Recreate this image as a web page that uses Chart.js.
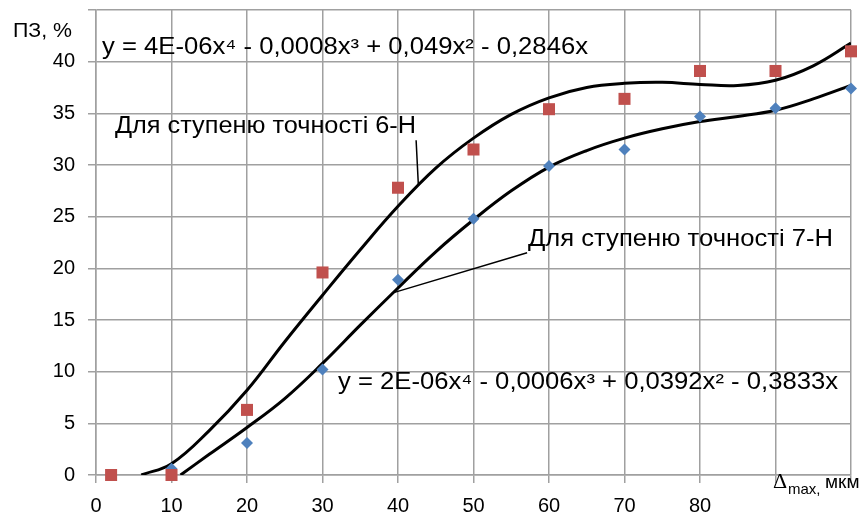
<!DOCTYPE html>
<html>
<head>
<meta charset="utf-8">
<script src="https://cdn.jsdelivr.net/npm/chart.js@4.4.1/dist/chart.umd.min.js"></script>
<style>
  html, body { margin: 0; padding: 0; background: #fff; }
  #wrap { width: 864px; height: 517px; }
</style>
</head>
<body>
<div id="wrap"><canvas id="chart" width="864" height="517"></canvas></div>
<script>
// виміряні точки
const x6H = [2, 10, 20, 30, 40, 50, 60, 70, 80, 90, 100];
const pz6H = [0, 0, 6.3, 19.6, 27.8, 31.5, 35.4, 36.4, 39.1, 39.1, 41.0];
const x7H = [10, 20, 30, 40, 50, 60, 70, 80, 90, 100];
const pz7H = [0.6, 3.1, 10.2, 18.9, 24.8, 29.9, 31.5, 34.7, 35.5, 37.4];

// лінії тренду
const xTrend6 = [6, 10, 15, 20, 25, 30, 35, 40, 45, 50, 55, 60, 65, 70, 75, 80, 85, 90, 95, 100];
const trend6H = [0, 1.1, 4.3, 8.2, 12.9, 17.4, 21.8, 26.0, 29.7, 32.6, 34.9, 36.5, 37.5, 37.9, 38.0, 37.8, 37.7, 38.2, 39.6, 41.8];
const xTrend7 = [11.2, 15, 20, 25, 30, 35, 40, 45, 50, 55, 60, 65, 70, 75, 80, 85, 90, 95, 100];
const trend7H = [0, 2.0, 4.6, 7.4, 10.8, 14.5, 18.1, 21.6, 24.7, 27.5, 29.8, 31.4, 32.6, 33.5, 34.2, 34.7, 35.3, 36.4, 37.7];

// підписи
const eq6H = "y = 4E-06x⁴ - 0,0008x³ + 0,049x² - 0,2846x";
const eq7H = "y = 2E-06x⁴ - 0,0006x³ + 0,0392x² - 0,3833x";
const label6H = "Для ступеню точності 6-Н";
const label7H = "Для ступеню точності 7-Н";
const yTitle = "ПЗ, %";
const xTitle = ["Δ", "max,", "мкм"];
const lastXTick = 80;
const lastYTick = 40;

const toXY = (xs, ys) => xs.map((x, i) => ({ x: x, y: ys[i] }));

const FONT = "'Liberation Sans', Arial, sans-serif";
const GRID = "#a0a0a0";

// текст, розтягнутий до заданої ширини
function fitText(ctx, text, x, y, width) {
  const w = ctx.measureText(text).width;
  ctx.save();
  ctx.translate(x, y);
  ctx.scale(width / w, 1);
  ctx.fillText(text, 0, 0);
  ctx.restore();
}

// текст і виноски поверх графіка
const notesPlugin = {
  id: "notes",
  afterDatasetsDraw(chart) {
    const ctx = chart.ctx;
    const xs = chart.scales.x;
    const ys = chart.scales.y;
    ctx.save();
    ctx.fillStyle = "#000";
    ctx.textBaseline = "alphabetic";
    ctx.textAlign = "left";

    ctx.font = "21px " + FONT;
    fitText(ctx, yTitle, 13, 37, 59);

    ctx.font = "23px " + FONT;
    fitText(ctx, eq6H, 102, 54, 486);
    fitText(ctx, label6H, 115, 133, 301);
    fitText(ctx, label7H, 528, 246, 305);
    fitText(ctx, eq7H, 338, 389, 500);

    // виноски
    ctx.strokeStyle = "#000";
    ctx.lineWidth = 1.5;
    ctx.beginPath();
    ctx.moveTo(xs.getPixelForValue(42.4), ys.getPixelForValue(32.4));
    ctx.lineTo(xs.getPixelForValue(42.7), ys.getPixelForValue(28.0));
    ctx.moveTo(xs.getPixelForValue(57.1), ys.getPixelForValue(21.5));
    ctx.lineTo(xs.getPixelForValue(39.2), ys.getPixelForValue(17.6));
    ctx.stroke();

    // підпис осі X
    ctx.font = "22px 'Liberation Serif', serif";
    ctx.fillText(xTitle[0], 773, 488);
    ctx.font = "15px " + FONT;
    ctx.fillText(xTitle[1], 788, 494);
    ctx.font = "19px " + FONT;
    ctx.fillText(xTitle[2], 825, 488);
    ctx.restore();
  }
};

new Chart(document.getElementById("chart"), {
  type: "scatter",
  data: {
    datasets: [
      {
        label: "6-Н",
        data: toXY(x6H, pz6H),
        pointStyle: "rect",
        pointRadius: 8.5,
        pointHoverRadius: 8.5,
        backgroundColor: "#c0504d",
        borderColor: "#c0504d",
        borderWidth: 0,
        clip: false,
        order: 1
      },
      {
        label: "7-Н",
        data: toXY(x7H, pz7H),
        pointStyle: "rectRot",
        pointRadius: 6,
        pointHoverRadius: 6,
        backgroundColor: "#4f81bd",
        borderColor: "#4f81bd",
        borderWidth: 0,
        clip: false,
        order: 2
      },
      {
        label: "Тренд 6-Н",
        data: toXY(xTrend6, trend6H),
        showLine: true,
        pointRadius: 0,
        borderColor: "#000",
        borderWidth: 3,
        tension: 0.4,
        order: 3
      },
      {
        label: "Тренд 7-Н",
        data: toXY(xTrend7, trend7H),
        showLine: true,
        pointRadius: 0,
        borderColor: "#000",
        borderWidth: 3,
        tension: 0.4,
        order: 4
      }
    ]
  },
  options: {
    responsive: false,
    animation: false,
    layout: { padding: { top: 10, right: 13, left: 0, bottom: 0 } },
    plugins: {
      legend: { display: false },
      tooltip: { enabled: false }
    },
    scales: {
      x: {
        type: "linear",
        min: 0,
        max: 100,
        afterFit: (s) => { s.height = 42; },
        ticks: {
          stepSize: 10,
          autoSkip: false,
          maxRotation: 0,
          padding: 11,
          color: "#000",
          font: { family: FONT, size: 20 },
          callback: (v) => (v > lastXTick ? "" : v)
        },
        grid: { color: GRID, lineWidth: 1.5, tickLength: 8 },
        border: { color: GRID, width: 1.5 }
      },
      y: {
        type: "linear",
        min: 0,
        max: 45,
        afterFit: (s) => { s.width = 96; s.paddingTop = 0; s.paddingBottom = 0; },
        ticks: {
          stepSize: 5,
          padding: 13,
          color: "#000",
          font: { family: FONT, size: 20 },
          callback: (v) => (v > lastYTick ? "" : v)
        },
        grid: { color: GRID, lineWidth: 1.5, tickLength: 8 },
        border: { color: GRID, width: 1.5 }
      }
    }
  },
  plugins: [notesPlugin]
});
</script>
</body>
</html>
